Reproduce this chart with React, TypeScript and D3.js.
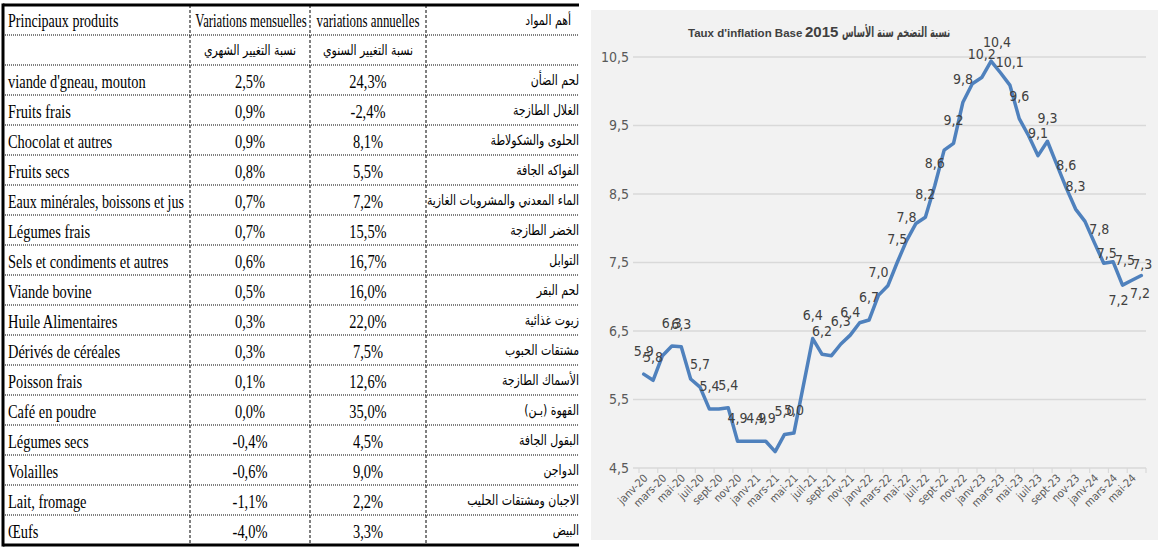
import React from 'react';
import * as d3 from 'd3';

// ---------- Table data ----------
const headerFr = ['Principaux produits', 'Variations mensuelles', 'variations annuelles', 'أهم المواد'];
const headerAr = ['', 'نسبة التغيير الشهري', 'نسبة التغيير السنوي', ''];
const productsFr = [
  "viande d'gneau, mouton", 'Fruits frais', 'Chocolat et autres', 'Fruits secs',
  'Eaux minérales, boissons et jus', 'Légumes frais', 'Sels et condiments et autres', 'Viande bovine',
  'Huile Alimentaires', 'Dérivés de céréales', 'Poisson frais', 'Café en poudre',
  'Légumes secs', 'Volailles', 'Lait, fromage', 'Œufs',
];
const productsAr = [
  'لحم الضأن', 'الغلال الطازجة', 'الحلوى والشكولاطة', 'الفواكه الجافة',
  'الماء المعدني والمشروبات الغازية', 'الخضر الطازجة', 'التوابل', 'لحم البقر',
  'زيوت غذائية', 'مشتقات الحبوب', 'الأسماك الطازجة', 'القهوة (بـن)',
  'البقول الجافة', 'الدواجن', 'الاجبان ومشتقات الحليب', 'البيض',
];
const monthlyVar = [2.5, 0.9, 0.9, 0.8, 0.7, 0.7, 0.6, 0.5, 0.3, 0.3, 0.1, 0.0, -0.4, -0.6, -1.1, -4.0];
const annualVar = [24.3, -2.4, 8.1, 5.5, 7.2, 15.5, 16.7, 16.0, 22.0, 7.5, 12.6, 35.0, 4.5, 9.0, 2.2, 3.3];

// ---------- Chart data ----------
const chartTitleFr = "Taux d'inflation Base";
const chartTitleYear = '2015';
const chartTitleAr = 'نسبة التضخم سنة الأساس';
const months = [
  'janv-20', 'févr-20', 'mars-20', 'avr-20', 'mai-20', 'juin-20', 'juil-20', 'août-20', 'sept-20', 'oct-20', 'nov-20', 'déc-20',
  'janv-21', 'févr-21', 'mars-21', 'avr-21', 'mai-21', 'juin-21', 'juil-21', 'août-21', 'sept-21', 'oct-21', 'nov-21', 'déc-21',
  'janv-22', 'févr-22', 'mars-22', 'avr-22', 'mai-22', 'juin-22', 'juil-22', 'août-22', 'sept-22', 'oct-22', 'nov-22', 'déc-22',
  'janv-23', 'févr-23', 'mars-23', 'avr-23', 'mai-23', 'juin-23', 'juil-23', 'août-23', 'sept-23', 'oct-23', 'nov-23', 'déc-23',
  'janv-24', 'févr-24', 'mars-24', 'avr-24', 'mai-24', 'juin-24',
];
const inflation = [
  5.87, 5.78, 6.14, 6.28, 6.27, 5.80, 5.68, 5.36, 5.36, 5.38, 4.89, 4.89,
  4.89, 4.89, 4.74, 4.99, 5.01, 5.70, 6.39, 6.16, 6.14, 6.31, 6.44, 6.62,
  6.66, 7.02, 7.16, 7.50, 7.82, 8.07, 8.16, 8.62, 9.14, 9.24, 9.84, 10.11,
  10.20, 10.44, 10.27, 10.09, 9.60, 9.35, 9.06, 9.27, 8.93, 8.59, 8.28, 8.10,
  7.79, 7.49, 7.51, 7.17, 7.24, 7.31,
];
const labeledIdx = [0, 1, 3, 4, 6, 7, 9, 10, 12, 13, 15, 16, 18, 19, 21, 22, 24, 25, 27, 28, 30, 31, 33, 34, 36, 37, 39, 40, 42, 43, 45, 46, 48, 49, 50, 51, 52, 53];
const yTicks = [4.5, 5.5, 6.5, 7.5, 8.5, 9.5, 10.5];

// label placement tweaks (layout only)
const labelShift: Record<number, [number, number]> = {
  37: [6, -19], 48: [5, -14], 49: [3, -10], 50: [12, -2], 51: [-4, 15], 52: [8, 13], 53: [1, -11],
};

const fmt = (v: number, d = 1) => d3.format(`.${d}f`)(v).replace('.', ',').replace('−', '-');

function Table() {
  const x0 = 3, x1 = 190, x2 = 310, x3 = 426, xR = 579;
  const top = 5, rowH = 30;
  const nRows = productsFr.length + 2;
  const bottom = top + nRows * rowH;
  const yRow = (r: number) => top + r * rowH;
  const fs = 19;
  const frText = (txt: string, x: number, y: number, anchor: string, sx = 0.76) => (
    <text transform={`translate(${x},${y}) scale(${sx},1)`} textAnchor={anchor}
      fontFamily="'Liberation Serif', 'Times New Roman', serif" fontSize={fs} fill="#000">{txt}</text>
  );
  const arText = (txt: string, x: number, y: number, anchor: string) => (
    <text transform={`translate(${x},${y}) scale(0.78,1)`} textAnchor={anchor} fontFamily="'DejaVu Sans', 'Noto Sans', sans-serif"
      fontSize={14} fill="#000">{txt}</text>
  );
  const c2 = (x1 + x2) / 2, c3 = (x2 + x3) / 2;
  return (
    <g>
      <defs>
        <clipPath id="tclip"><rect x={0} y={0} width={xR} height={547} /></clipPath>
      </defs>
      <g clipPath="url(#tclip)">
        {d3.range(1, nRows).map(r => (
          <line key={'h' + r} x1={x0} x2={xR} y1={yRow(r)} y2={yRow(r)} stroke="#000" strokeWidth={1} strokeDasharray="1,1" />
        ))}
        {[x1, x2, x3].map((x, i) => (
          <line key={'v' + i} x1={x} x2={x} y1={top} y2={bottom} stroke="#000" strokeWidth={1} strokeDasharray="3,2" />
        ))}
        {frText(headerFr[0], 8, yRow(0) + 22, 'start', 0.74)}
        {frText(headerFr[1], c2 + 1, yRow(0) + 22, 'middle', 0.67)}
        {frText(headerFr[2], c3, yRow(0) + 22, 'middle', 0.68)}
        {arText(headerFr[3], 571, yRow(0) + 20, 'end')}
        {arText(headerAr[1], c2, yRow(1) + 20, 'middle')}
        {arText(headerAr[2], c3, yRow(1) + 20, 'middle')}
        {productsFr.map((p, i) => (
          <g key={'r' + i}>
            {frText(p, 8, yRow(i + 2) + 23, 'start', i === 4 ? 0.74 : 0.76)}
            {frText(fmt(monthlyVar[i]) + '%', c2, yRow(i + 2) + 23, 'middle')}
            {frText(fmt(annualVar[i]) + '%', c3, yRow(i + 2) + 23, 'middle')}
            {arText(productsAr[i], 579, yRow(i + 2) + 20, 'end')}
          </g>
        ))}
        <line x1={x0} x2={xR} y1={top} y2={top} stroke="#000" strokeWidth={3} />
        <line x1={x0} x2={xR} y1={bottom} y2={bottom} stroke="#000" strokeWidth={3} />
        <line x1={x0} x2={x0} y1={top - 1.5} y2={bottom + 1.5} stroke="#000" strokeWidth={3} />
      </g>
    </g>
  );
}

function Chart() {
  const x = d3.scaleBand<number>().domain(d3.range(inflation.length)).range([639, 1146]).padding(0);
  const bw = x.bandwidth();
  const cx = (i: number) => (x(i) as number) + bw / 2;
  const y = d3.scaleLinear().domain([4.5, 10.5]).range([468, 57]);
  const line = d3.line<number>().x((_, i) => cx(i)).y(v => y(v));
  const labelFont = "'Liberation Sans Narrow', 'DejaVu Sans Condensed', 'Roboto', sans-serif";
  return (
    <g>
      <rect x={591} y={10} width={567} height={530} fill="#f2f2f2" />
      <text x={688} y={37} fontFamily="'Liberation Sans', Arial, sans-serif" fontWeight="bold" fontSize={11.5} fill="#404040">
        {chartTitleFr}
      </text>
      <text x={805} y={37} fontFamily="'Liberation Sans', Arial, sans-serif" fontWeight="bold" fontSize={15} fill="#404040">
        {chartTitleYear}
      </text>
      <text transform="translate(842,37) scale(0.6,1)" textAnchor="start" fontFamily="'DejaVu Sans', sans-serif"
        fontWeight="bold" fontSize={14} fill="#404040">{chartTitleAr}</text>
      {yTicks.map(t => (
        <g key={'g' + t}>
          <line x1={633} x2={1146} y1={y(t)} y2={y(t)} stroke="#d9d9d9" strokeWidth={1.5} />
          <text x={629} y={y(t)} dy="0.35em" textAnchor="end" fontFamily={labelFont} fontSize={14} fill="#595959">{fmt(t)}</text>
        </g>
      ))}
      {d3.range(0, inflation.length + 1, 2).map(k => {
        const xx = k < inflation.length ? (x(k) as number) : 1146;
        return <line key={'t' + k} x1={xx} x2={xx} y1={y(4.5)} y2={y(4.5) + 5} stroke="#d9d9d9" strokeWidth={1.2} />;
      })}
      {months.map((m, i) => i % 2 === 0 ? (
        <text key={'m' + i} transform={`translate(${cx(i) + 2},${y(4.5) + 8}) rotate(-45)`} textAnchor="end"
          dy="0.35em" fontFamily={labelFont} fontSize={11} fill="#595959">{m}</text>
      ) : null)}
      <path d={line(inflation) as string} fill="none" stroke="#4f81bd" strokeWidth={3.5} strokeLinejoin="round" strokeLinecap="round" />
      {labeledIdx.map(i => {
        const [dx, dy] = labelShift[i] || [0, -23];
        return (
          <text key={'l' + i} x={cx(i) + dx} y={y(inflation[i]) + dy} dy="0.35em" textAnchor="middle"
            fontFamily={labelFont} fontSize={14} fill="#404040">{fmt(inflation[i])}</text>
        );
      })}
    </g>
  );
}

export default function App() {
  return (
    <svg width={1161} height={547} style={{ position: 'absolute', left: 0, top: 0, background: '#fff' }}>
      <rect x={0} y={0} width={1161} height={547} fill="#fff" />
      <Table />
      <Chart />
    </svg>
  );
}
